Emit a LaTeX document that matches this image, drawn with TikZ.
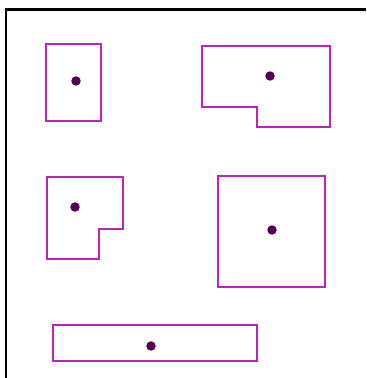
\documentclass[tikz,border=0pt]{standalone}
\begin{document}
\begin{tikzpicture}[x=0.02cm, y=-0.02cm, line join=miter]
			\definecolor{shapeviolet}{RGB}{190, 35, 190}
			\definecolor{dotpurple}{RGB}{85, 0, 80}
			\tikzset{figline/.style={shapeviolet, line width=1.2pt}, centre/.style={dotpurple, radius=2.7pt}}
			\useasboundingbox (0,0) rectangle (366,378);
			\draw[line width=1.2pt] (6,378) -- (6,9.5) -- (366,9.5);
			% top row
			\draw[figline] (46,44) rectangle (101,121);
			\fill[centre] (76,81) circle;
			\draw[figline] (202,46) -- (330,46) -- (330,127) -- (257,127) -- (257,107) -- (202,107) -- cycle;
			\fill[centre] (270,76) circle;
			% middle row
			\draw[figline] (47,177) -- (123,177) -- (123,229) -- (99,229) -- (99,259) -- (47,259) -- cycle;
			\fill[centre] (75,207) circle;
			\draw[figline] (218,176) rectangle (325,287);
			\fill[centre] (272,230) circle;
			% bottom bar
			\draw[figline] (53,325) rectangle (257,361);
			\fill[centre] (151,346) circle;
		\end{tikzpicture}
\end{document}
